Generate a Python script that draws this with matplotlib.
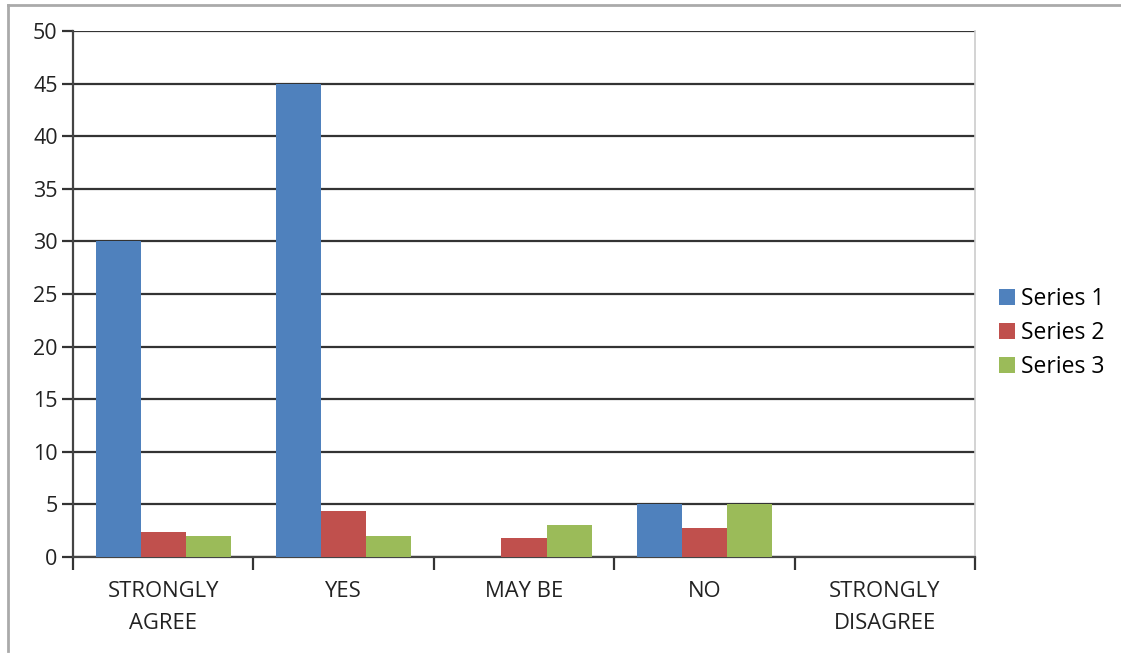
import matplotlib.pyplot as plt
from matplotlib.lines import Line2D
import numpy as np

plt.rcParams['font.family'] = ['Open Sans', 'DejaVu Sans']

categories = ["STRONGLY\nAGREE", "YES", "MAY BE", "NO", "STRONGLY\nDISAGREE"]
series_names = ["Series 1", "Series 2", "Series 3"]
series1 = [30, 45, 0, 5, 0]
series2 = [2.4, 4.4, 1.8, 2.8, 0]
series3 = [2.0, 2.0, 3.0, 5.0, 0]
colors = ["#4F81BD", "#C0504D", "#9BBB59"]

W, H = 1121, 654
fig = plt.figure(figsize=(W / 100, H / 100), dpi=100)
ax = fig.add_axes([73 / W, 1 - 557 / H, (975 - 73) / W, (557 - 31) / H])

x = np.arange(len(categories))
width = 0.25
for i, (vals, name) in enumerate(zip([series1, series2, series3], series_names)):
    ax.bar(x + (i - 1) * width, vals, width, color=colors[i], label=name, zorder=3)

ax.set_xlim(-0.5, len(categories) - 0.5)
ax.set_ylim(0, 50)
ax.set_yticks(range(0, 51, 5))
ax.yaxis.grid(True, color="#333333", linewidth=1.6, zorder=1)
ax.set_axisbelow(True)

# category ticks sit on the boundaries, labels in the middle
ax.set_xticks(np.arange(-0.5, len(categories)), minor=False)
ax.set_xticklabels([])
ax.set_xticks(x, minor=True)
ax.set_xticklabels(categories, minor=True, fontsize=15.8, color="#222222", linespacing=1.7)
ax.tick_params(axis="x", which="minor", length=0, pad=17)
ax.tick_params(axis="x", which="major", length=9, width=1.6, color="#333333", direction="out")
ax.tick_params(axis="y", length=8, width=1.6, color="#333333", labelsize=15.5, labelcolor="#222222", pad=3)

ax.spines["top"].set_visible(False)
ax.spines["right"].set_color("#cccccc")
ax.spines["right"].set_linewidth(1.2)
for side in ["left", "bottom"]:
    ax.spines[side].set_color("#444444")
    ax.spines[side].set_linewidth(1.6)

fig.legend(loc="center left", bbox_to_anchor=(999 / W, 1 - 333 / H), frameon=False, fontsize=16.5,
           handlelength=0.7, handleheight=0.7, handletextpad=0.25, labelspacing=0.45,
           borderpad=0, borderaxespad=0)

# outer frame
fig.add_artist(Line2D([8 / W, 8 / W], [1 - 651 / H, 1 - 5 / H], color="#aaaaaa", lw=2))
fig.add_artist(Line2D([8 / W, 1], [1 - 5 / H, 1 - 5 / H], color="#aaaaaa", lw=2))

fig.savefig("out.png", dpi=100)
